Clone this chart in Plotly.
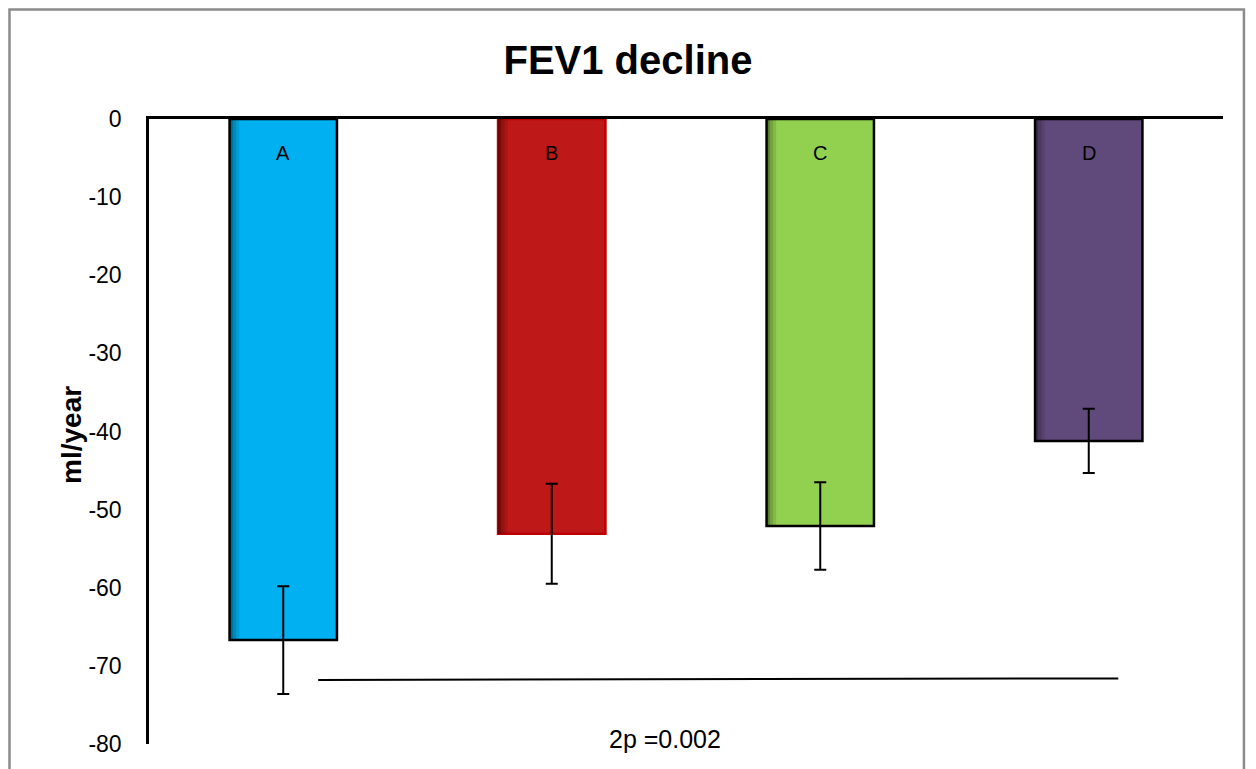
import plotly.graph_objects as go

categories = ["A", "B", "C", "D"]
values = [-66.7, -53.1, -52.1, -41.2]
errors = [6.9, 6.4, 5.6, 4.1]
fill_colors = ["#00B0F0", "#BE1818", "#92D050", "#604A7B"]
line_colors = ["#000000", "#C00000", "#000000", "#000000"]
y_ticks = [0, -10, -20, -30, -40, -50, -60, -70, -80]
p_text = "2p =0.002"
p_line_y = [-71.8, -71.6]
p_line_x = [0.13, 3.11]
p_text_pos = (1.42, -79.3)
label_y = -4.4

fig = go.Figure()
fig.add_trace(go.Bar(
    x=list(range(len(categories))),
    y=values,
    width=0.4,
    marker=dict(color=fill_colors, line=dict(color=line_colors, width=2.5)),
    error_y=dict(type="data", array=errors, visible=True, color="black", thickness=2, width=6),
    showlegend=False,
))

# darker left-edge shading on each bar
shade = [(0.0, 0.012, 0.40), (0.012, 0.024, 0.22), (0.024, 0.036, 0.10)]
for i, v in enumerate(values):
    for a, b, op in shade:
        fig.add_shape(type="rect", x0=i - 0.2 + a, x1=i - 0.2 + b, y0=0, y1=v,
                      fillcolor=f"rgba(0,0,0,{op})", line=dict(width=0), layer="above")

for i, c in enumerate(categories):
    fig.add_annotation(x=i, y=label_y, text=c, showarrow=False,
                       font=dict(size=20, color="black", family="Liberation Sans"))

fig.add_shape(type="line", x0=p_line_x[0], x1=p_line_x[1], y0=p_line_y[0], y1=p_line_y[1],
              line=dict(color="black", width=2))
fig.add_annotation(x=p_text_pos[0], y=p_text_pos[1], text=p_text, showarrow=False,
                   font=dict(size=25, color="black", family="Liberation Sans"))

# y-axis title
fig.add_annotation(xref="paper", yref="paper", x=-0.072, y=0.494, text="<b>ml/year</b>",
                   textangle=-90, showarrow=False, xanchor="center", yanchor="middle",
                   font=dict(size=28, color="black", family="Liberation Sans"))

# outer chart border
fig.add_shape(type="rect", xref="paper", yref="paper",
              x0=-0.1299, x1=1.0195, y0=-0.08, y1=1.1752,
              line=dict(color="#8C8C8C", width=2.5), fillcolor="rgba(0,0,0,0)")

fig.update_layout(
    width=1256, height=769,
    margin=dict(l=141, r=41, t=111, b=33),
    paper_bgcolor="white", plot_bgcolor="white",
    title=dict(text="<b>FEV1 decline</b>", x=0.4936, xanchor="center", y=0.932, yanchor="middle",
               font=dict(size=40, color="black", family="Liberation Sans")),
    font=dict(family="Liberation Sans", color="black"),
    xaxis=dict(range=[-0.5, 3.5], side="top", showline=True, linecolor="black", linewidth=2.5,
               showticklabels=False, ticks="", showgrid=False, zeroline=False),
    yaxis=dict(range=[-80, 0], tickvals=y_ticks, ticktext=[str(t) for t in y_ticks],
               showline=True, linecolor="black", linewidth=2.5, ticks="", showgrid=False,
               zeroline=False, tickfont=dict(size=23), ticklabelstandoff=20),
)

fig.write_html("out.html")
